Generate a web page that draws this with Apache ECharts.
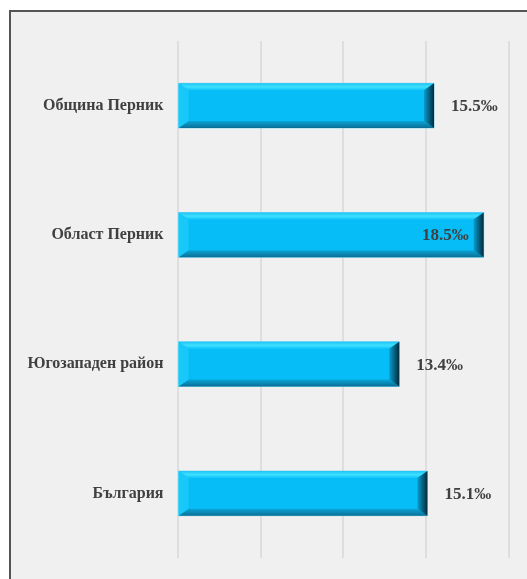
<!DOCTYPE html>
<html><head><meta charset="utf-8">
<script src="https://cdn.jsdelivr.net/npm/echarts@6/dist/echarts.min.js"></script>
<style>html,body{margin:0;padding:0;background:#fff}#c{width:527px;height:579px}</style>
</head><body><div id="c"></div>
<script>
const categories = ['Община Перник', 'Област Перник', 'Югозападен район', 'България'];
const values = [15.5, 18.5, 13.4, 15.1];
const valueLabels = ['15.5‰', '18.5‰', '13.4‰', '15.1‰'];
const labelInside = [false, true, false, false];

const chart = echarts.init(document.getElementById('c'));
const font = '"Liberation Serif", "Times New Roman", serif';

function renderBar(params, api) {
  const cat = api.value(0);
  const val = api.value(1);
  const p0 = api.coord([0, cat]);
  const p1 = api.coord([val, cat]);
  const band = api.size([0, 1])[1];
  const h = band * 0.345;
  const x0 = p0[0] + 1, x1 = p1[0];
  const y0 = p0[1] - h / 2, y1 = p0[1] + h / 2;
  const b = 10, bv = 7;
  const idx = params.dataIndex;
  const children = [
    {type: 'rect', shape: {x: x0, y: y0, width: x1 - x0, height: h},
      style: {fill: '#06bdf7', stroke: '#7fd6f0', lineWidth: 1}},
    {type: 'polygon', shape: {points: [[x0, y0], [x1, y0], [x1 - b, y0 + bv], [x0 + b, y0 + bv]]},
      style: {fill: new echarts.graphic.LinearGradient(0, 0, 0, 1, [{offset: 0, color: '#1fc4f5'}, {offset: 0.5, color: '#3ee0ff'}, {offset: 1, color: '#10c2f8'}])}},
    {type: 'polygon', shape: {points: [[x0, y1], [x1, y1], [x1 - b, y1 - bv], [x0 + b, y1 - bv]]},
      style: {fill: new echarts.graphic.LinearGradient(0, 0, 0, 1, [{offset: 0, color: '#0aa6d8'}, {offset: 1, color: '#0a6f96'}])}},
    {type: 'polygon', shape: {points: [[x0, y0], [x0 + b, y0 + bv], [x0 + b, y1 - bv], [x0, y1]]},
      style: {fill: '#18c8f8'}},
    {type: 'polygon', shape: {points: [[x1, y0], [x1 - b, y0 + bv], [x1 - b, y1 - bv], [x1, y1]]},
      style: {fill: new echarts.graphic.LinearGradient(0, 0, 1, 0, [{offset: 0, color: '#0a9ccc'}, {offset: 1, color: '#002a3c'}])}},
    {type: 'text', style: {
      text: valueLabels[idx],
      x: labelInside[idx] ? x1 - 15 : x1 + 17,
      y: p0[1] + 1,
      align: labelInside[idx] ? 'right' : 'left',
      verticalAlign: 'middle',
      fill: '#404040', font: 'bold 17px ' + font}}
  ];
  return {type: 'group', children: children};
}

chart.setOption({
  backgroundColor: '#ffffff',
  animation: false,
  graphic: [{type: 'rect', z: -10, silent: true,
    shape: {x: 10, y: 11, width: 540, height: 600},
    style: {fill: '#f0f0f0', stroke: '#555555', lineWidth: 2}}],
  grid: {left: 177.5, right: 18.5, top: 41, bottom: 21, containLabel: false},
  xAxis: {type: 'value', min: 0, max: 20, interval: 5,
    axisLine: {show: false}, axisTick: {show: false}, axisLabel: {show: false},
    splitLine: {lineStyle: {color: '#d9d9d9', width: 1.5}}},
  yAxis: {type: 'category', data: categories, inverse: true,
    axisLine: {show: false}, axisTick: {show: false},
    axisLabel: {margin: 14, fontFamily: font, fontWeight: 'bold', fontSize: 16, color: '#404040'}},
  series: [{type: 'custom', renderItem: renderBar,
    encode: {x: 1, y: 0},
    data: values.map((v, i) => [i, v])}]
});
</script></body></html>
